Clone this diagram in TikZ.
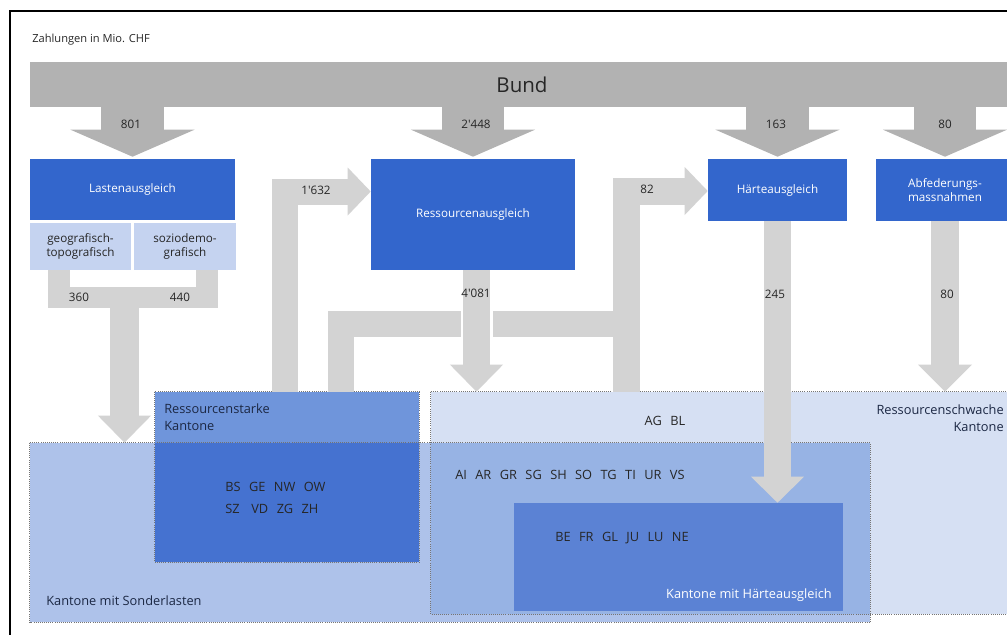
\documentclass[tikz,border=0pt]{standalone}
\usepackage{fontspec}
\setmainfont{Open Sans}[Ligatures=TeXOff]
\usetikzlibrary{arrows.meta}

\definecolor{bundgray}{RGB}{178,178,178}
\definecolor{flowgray}{RGB}{211,211,211}
\definecolor{boxblue}{RGB}{51,102,204}
\definecolor{subblue}{RGB}{197,211,240}
\definecolor{sonderfill}{RGB}{174,194,234}
\definecolor{starkefill}{RGB}{111,149,219}
\definecolor{starkedark}{RGB}{69,114,208}
\definecolor{schwachfill}{RGB}{214,224,243}
\definecolor{schwachdark}{RGB}{151,179,228}
\definecolor{haertefill}{RGB}{91,130,212}
\definecolor{navy}{RGB}{28,40,68}

\newcommand{\kgap}{\hspace{6pt}}

\begin{document}
\begin{tikzpicture}[x=0.025cm, y=-0.025cm,
        font=\fontsize{8.3}{10.5}\selectfont,
        bluebox/.style={rectangle, fill=boxblue, inner sep=0pt, text=white, align=center},
        subbox/.style={rectangle, fill=subblue, inner sep=0pt, text=black!85, align=center},
        region/.style={rectangle, inner sep=0pt},
        rborder/.style={densely dotted, draw=black!55, line width=0.5pt},
        lbl/.style={inner sep=0pt, text=black!85},
        ktxt/.style={inner sep=0pt, text=black!85, font=\fontsize{9.1}{12.5}\selectfont},
        flow/.style={draw=flowgray, line width=#1},
        bundarrow/.style={draw=bundgray, line width=1.55cm, -{Triangle[length=0.675cm, width=3.1cm, line width=0pt]}, shorten >=0.05cm},
    ]
        \useasboundingbox (0,0) rectangle (1007,634);
        \clip (0,0) rectangle (1007,634);
        \draw[line width=1.6pt] (10,11) rectangle (1040,660);

        \node[lbl, anchor=west, font=\fontsize{7.9}{10}\selectfont] (title) at (32,40) {Zahlungen in Mio. CHF};

        %Kantone
        \node[region, fill=sonderfill, minimum width=21cm, minimum height=4.475cm] (sonder) at (450,532.5) {};
        \node[region, fill=schwachfill, minimum width=14.575cm, minimum height=5.55cm] (schwach) at (722.5,503) {};
        \node[region, fill=starkefill, minimum width=6.6cm, minimum height=4.25cm] (starke) at (287,477) {};
        \fill[starkedark] (starke.west |- sonder.north) rectangle (starke.south east);
        \fill[schwachdark] (schwach.west |- sonder.north) rectangle (sonder.east |- schwach.south);
        \node[region, fill=haertefill, minimum width=8.225cm, minimum height=2.7cm] (haerteK) at (678.5,557) {};
        \foreach \r in {sonder,schwach,starke}
            \draw[rborder] (\r.north west) rectangle (\r.south east);

        \node[ktxt, text=navy, anchor=west] (sondertxt) at (46,601) {Kantone mit Sonderlasten};
        \node[ktxt, text=navy, anchor=north west, align=left] (starketxt) at (164,403) {Ressourcenstarke\\Kantone};
        \node[ktxt, anchor=north west, align=left] (starkekt) at (225,482) {BS\kgap GE\kgap NW\kgap OW\\[3pt]SZ\kgap\ VD\kgap ZG\kgap ZH};
        \node[ktxt, text=navy, anchor=north east, align=right] (schwachtxt) at (1004,404) {Ressourcenschwache\\Kantone};
        \node[ktxt] (schwachkt) at (665,421) {AG\kgap BL};
        \node[ktxt, anchor=west] (sonderkt) at (455,475) {AI\kgap AR\kgap GR\kgap SG\kgap SH\kgap SO\kgap TG\kgap TI\kgap UR\kgap VS};
        \node[ktxt, anchor=west] (haertekt) at (555,538) {BE\kgap FR\kgap GL\kgap JU\kgap LU\kgap NE};
        \node[ktxt, text=white, anchor=east] (haertetxt) at (832,595) {Kantone mit Härteausgleich};

        %Bund and Ausgleich
        \node[region, fill=bundgray, minimum width=24.6cm, minimum height=1.125cm, text=black!85, font=\fontsize{14.6}{16}\selectfont] (bund) at (522,84.5) {Bund};
        \node[bluebox, minimum width=5.125cm, minimum height=1.525cm] (lasten) at (132.5,189.5) {Lastenausgleich};
        \node[subbox, minimum width=2.525cm, minimum height=1.175cm] (geo) at (80.5,246.5) {geografisch-\\topografisch};
        \node[subbox, minimum width=2.55cm, minimum height=1.175cm] (sozio) at (185,246.5) {soziodemo-\\grafisch};
        \node[bluebox, minimum width=5.1cm, minimum height=2.775cm] (ressaus) at (473,214.5) {Ressourcenausgleich};
        \node[bluebox, minimum width=3.475cm, minimum height=1.55cm] (haerte) at (777.5,190) {Härteausgleich};
        \node[bluebox, minimum width=3.45cm, minimum height=1.55cm] (abfed) at (945,190) {Abfederungs-\\massnahmen};

        %Flows from Bund
        \foreach \b in {lasten,ressaus,haerte,abfed}
            \draw[bundarrow] (\b.north |- bund.south) -- (\b.north);
        \node[lbl] (b801) at (131,124) {801};
        \node[lbl] (b2448) at (476,124) {2'448};
        \node[lbl] (b163) at (776,124) {163};
        \node[lbl] (b80) at (945,124) {80};

        %Lastenausgleich
        \coordinate (lmerge) at (124.5,297.5);
        \draw[flow=0.525cm] (59,0 |- geo.south) -- (59,297.5) -| (207,0 |- sozio.south);
        \draw[flow=0.725cm, -{Triangle[length=0.675cm, width=1.325cm, line width=0pt]}] (lmerge) -- (lmerge |- sonder.north);
        \node[lbl] (n360) at (79,297) {360};
        \node[lbl] (n440) at (180,297) {440};

        %Ressourcenausgleich
        \coordinate (rjoin) at (626.5,323.5);
        \draw[flow=0.65cm, -{Triangle[length=0.575cm, width=1.2cm, line width=0pt]}] (285,0 |- starke.north) |- (ressaus.west |- 0,191.5);
        \draw[flow=0.65cm] (341,0 |- starke.north) |- (rjoin);
        \draw[flow=0.675cm, -{Triangle[length=0.575cm, width=1.2cm, line width=0pt]}] (rjoin |- schwach.north) |- (haerte.west |- 0,191);
        \draw[white, line width=0.8cm] (476.5,0 |- ressaus.south) -- (476.5,360);
        \draw[flow=0.675cm, -{Triangle[length=0.675cm, width=1.325cm, line width=0pt]}] (476.5,0 |- ressaus.south) -- (476.5,0 |- schwach.north);
        \node[lbl] (n1632) at (316,190) {1'632};
        \node[lbl] (n82) at (647,189) {82};
        \node[lbl] (n4081) at (476,293) {4'081};

        %Haerte and Abfederung
        \draw[flow=0.675cm, -{Triangle[length=0.65cm, width=1.325cm, line width=0pt]}] (haerte.south) -- (haerte.south |- haerteK.north);
        \draw[flow=0.7cm, -{Triangle[length=0.675cm, width=1.35cm, line width=0pt]}] (abfed.south) -- (abfed.south |- schwach.north);
        \node[lbl] (n245) at (775,294) {245};
        \node[lbl] (n80) at (947,294) {80};
    \end{tikzpicture}
\end{document}
